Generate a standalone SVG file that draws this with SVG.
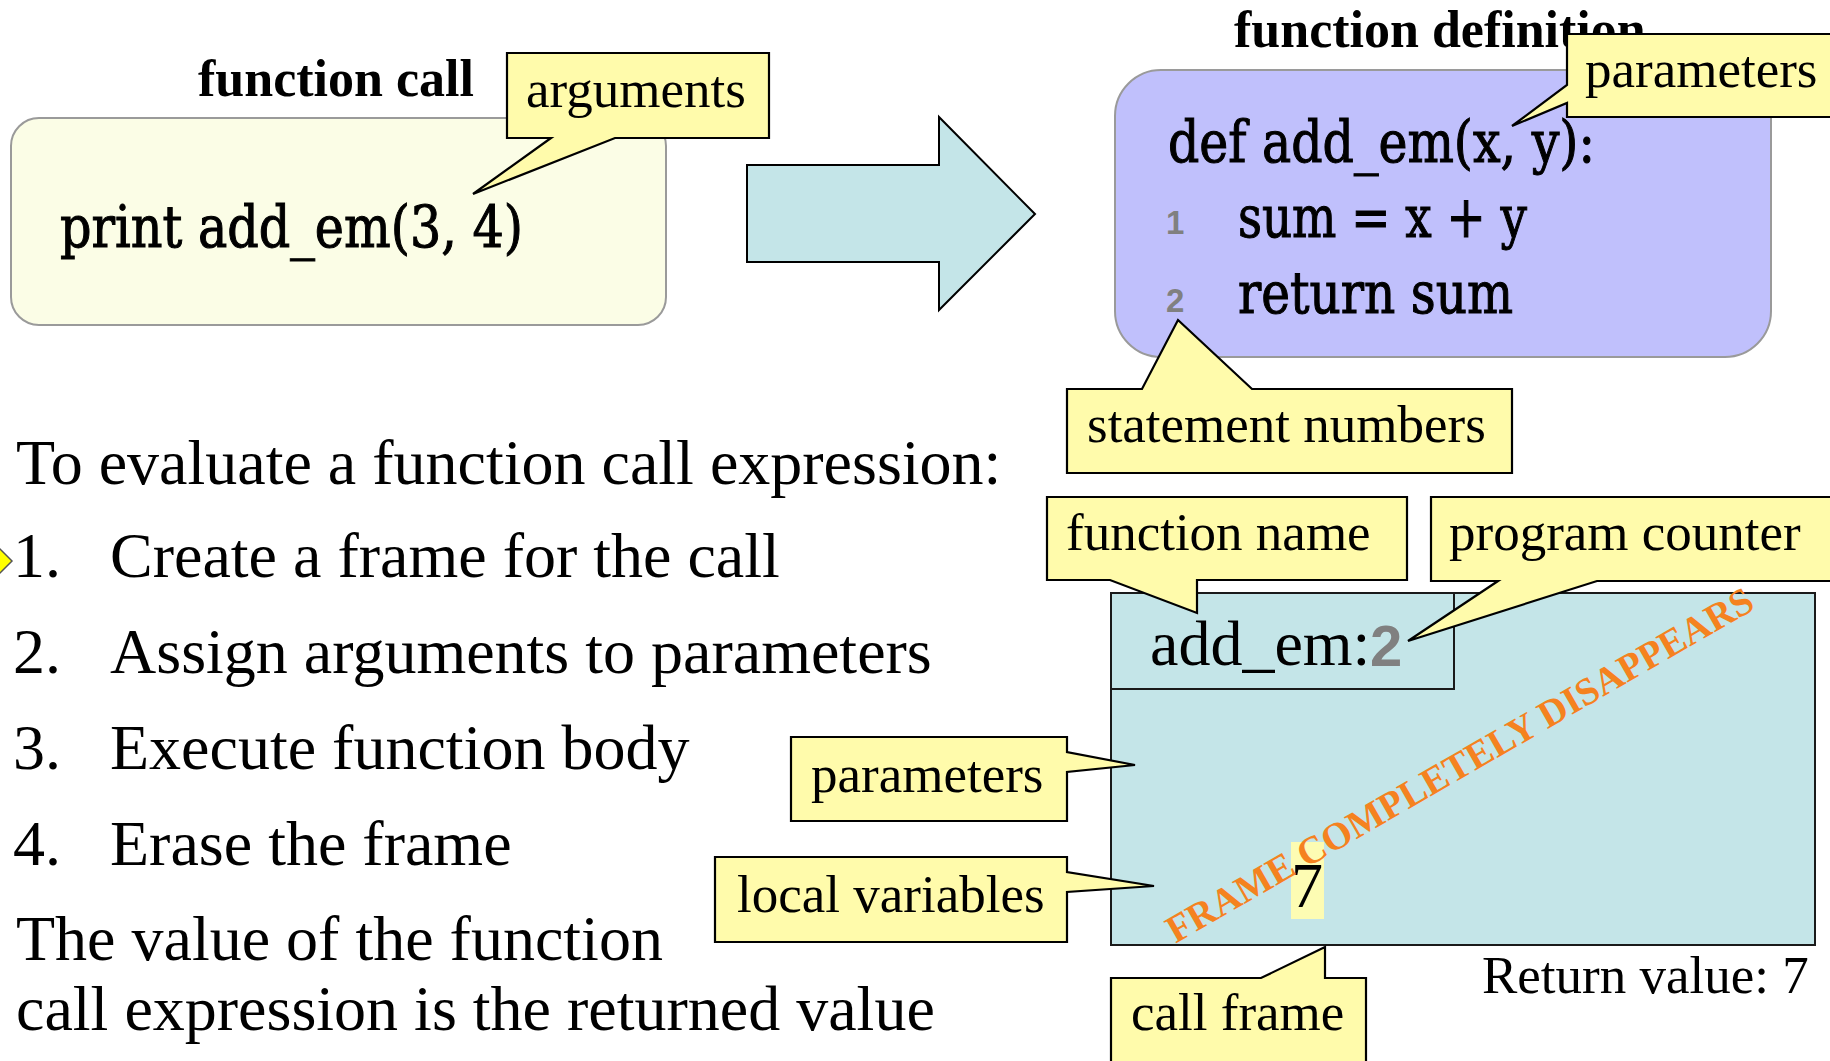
<svg xmlns="http://www.w3.org/2000/svg" width="1830" height="1061" viewBox="0 0 1830 1061">
  <style>
    .bg { fill: #ffffff; }
    .head { font-family: "Liberation Serif", "Times New Roman", serif; font-weight: bold; font-size: 52px; fill: #000; }
    .body { font-family: "Liberation Serif", "Times New Roman", serif; font-size: 64px; fill: #000; }
    .note { font-family: "Liberation Serif", "Times New Roman", serif; font-size: 53px; fill: #000; }
    .code { font-family: "DejaVu Serif", serif; font-stretch: condensed; font-size: 57px; fill: #000; stroke: #000; stroke-width: 1; }
    .lineno { font-family: "Liberation Sans", Arial, sans-serif; font-weight: bold; font-size: 33px; fill: #808080; }
    .callout { fill: #fffbab; stroke: #000; stroke-width: 2.2; stroke-linejoin: miter; }
    .codebox { stroke: #9a9a9a; stroke-width: 2; }
    .frame { fill: #c4e5e8; stroke: #1a1a1a; stroke-width: 2; }
    .bigarrow { fill: #c4e5e8; stroke: #000; stroke-width: 2; stroke-linejoin: miter; }
    .stamp { font-family: "Liberation Serif", "Times New Roman", serif; font-weight: bold; font-size: 38.5px; fill: #f5821f; }
  </style>

  <rect class="bg" x="0" y="0" width="1830" height="1061"/>

  <!-- call site -->
  <g id="function-call">
    <text class="head" x="198" y="96">function call</text>
    <rect class="codebox" x="11" y="118" width="655" height="207" rx="28" ry="28" fill="#fbfde6"/>
    <text class="code" x="60" y="247" textLength="463" lengthAdjust="spacingAndGlyphs">print add_em(3, 4)</text>
  </g>

  <!-- definition -->
  <g id="function-definition">
    <text class="head" x="1234" y="47">function definition</text>
    <rect class="codebox" x="1115" y="70" width="656" height="287" rx="46" ry="46" fill="#c0c0fc"/>
    <text class="code" x="1168" y="162" textLength="427" lengthAdjust="spacingAndGlyphs">def add_em(x, y):</text>
    <text class="lineno" x="1166" y="234">1</text>
    <text class="code" x="1238" y="237" textLength="289" lengthAdjust="spacingAndGlyphs">sum = x + y</text>
    <text class="lineno" x="1166" y="312">2</text>
    <text class="code" x="1238" y="313" textLength="275" lengthAdjust="spacingAndGlyphs">return sum</text>
  </g>

  <!-- connectors -->
  <g id="connectors">
    <polygon class="bigarrow" points="747,165 939,165 939,117 1035,214 939,310 939,262 747,262"/>
  </g>

  <!-- evaluation steps -->
  <g id="steps">
    <text class="body" x="16" y="484">To evaluate a function call expression:</text>
    <polygon points="12,561 0,549 -12,561 0,573" fill="#ffff00" stroke="#555" stroke-width="1.5"/>
    <text class="body" x="13" y="577">1.</text>
    <text class="body" x="110" y="577">Create a frame for the call</text>
    <text class="body" x="13" y="673">2.</text>
    <text class="body" x="110" y="673">Assign arguments to parameters</text>
    <text class="body" x="13" y="769">3.</text>
    <text class="body" x="110" y="769">Execute function body</text>
    <text class="body" x="13" y="865">4.</text>
    <text class="body" x="110" y="865">Erase the frame</text>
    <text class="body" x="16" y="960">The value of the function</text>
    <text class="body" x="16" y="1030">call expression is the returned value</text>
  </g>

  <!-- call frame -->
  <g id="frame">
    <rect class="frame" x="1111" y="593" width="704" height="352"/>
    <rect class="frame" x="1111" y="593" width="343" height="96"/>
    <text class="note" x="1150" y="665" style="font-size:64px">add_em:</text>
    <text x="1370" y="666" font-family="Liberation Sans, Arial, sans-serif" font-weight="bold" font-size="58" fill="#808080">2</text>
    <rect x="1291" y="842" width="33" height="77" fill="#fdfcb3"/>
    <text class="body" x="1307" y="907" text-anchor="middle">7</text>
    <text class="stamp" x="1466" y="776" text-anchor="middle" transform="rotate(-30 1466 776)">FRAME COMPLETELY DISAPPEARS</text>
  </g>

  <g id="return-value">
    <text class="note" x="1482" y="993">Return value: 7</text>
  </g>

  <!-- callouts -->
  <g id="callout-arguments">
    <path class="callout" d="M507,53 H769 V138 H615 L473,194 L551,138 H507 Z"/>
    <text class="note" x="526" y="107">arguments</text>
  </g>
  <g id="callout-parameters-def">
    <path class="callout" d="M1567,34 H1842 V117 H1567 V103 L1512,126 L1567,85 Z"/>
    <text class="note" x="1585" y="87">parameters</text>
  </g>
  <g id="callout-statement-numbers">
    <path class="callout" d="M1067,389 H1142 L1178,320 L1252,389 H1512 V473 H1067 Z"/>
    <text class="note" x="1087" y="442">statement numbers</text>
  </g>
  <g id="callout-function-name">
    <path class="callout" d="M1047,497 H1407 V580 H1197 V613 L1110,580 H1047 Z"/>
    <text class="note" x="1066" y="550">function name</text>
  </g>
  <g id="callout-program-counter">
    <path class="callout" d="M1431,497 H1842 V581 H1597 L1408,641 L1498,581 H1431 Z"/>
    <text class="note" x="1449" y="550">program counter</text>
  </g>
  <g id="callout-parameters-frame">
    <path class="callout" d="M791,737 H1067 V752 L1135,765 L1067,772 V821 H791 Z"/>
    <text class="note" x="811" y="792">parameters</text>
  </g>
  <g id="callout-local-variables">
    <path class="callout" d="M715,857 H1067 V872 L1154,886 L1067,892 V942 H715 Z"/>
    <text class="note" x="737" y="912">local variables</text>
  </g>
  <g id="callout-call-frame">
    <path class="callout" d="M1111,978 H1261 L1325,947 V978 H1366 V1072 H1111 Z"/>
    <text class="note" x="1131" y="1030">call frame</text>
  </g>
</svg>
